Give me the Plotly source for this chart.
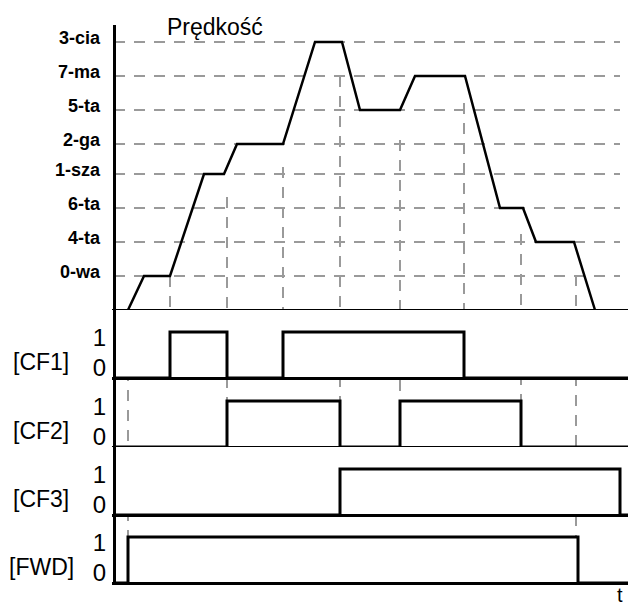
import plotly.graph_objects as go

# speed profile: time and speed
speed_t = [14, 30, 56, 90, 110, 123, 169, 201, 228, 246, 286, 301, 351, 386, 409, 422, 460, 481]
speed_v = [0, 34, 34, 136, 136, 166, 166, 268, 268, 200, 200, 234, 234, 102, 102, 68, 68, 0]

level_names = ["0-wa", "4-ta", "6-ta", "1-sza", "2-ga", "5-ta", "7-ma", "3-cia"]
level_values = [34, 68, 102, 136, 166, 200, 234, 268]

signal_names = ["[CF1]", "[CF2]", "[CF3]", "[FWD]"]
cf1_edges = [56, 113, 169, 350]
cf2_edges = [113, 226, 286, 407]
cf3_edges = [226, 506]
fwd_edges = [14, 464]

# vertical guide lines: time, speed where the dashes start, signal they run down to
marker_t = [14, 56, 113, 169, 226, 286, 350, 407, 462]
marker_top = [0, 34, 113, 143, 234, 170, 207, 76, 35]
marker_sig = [3, 0, 1, 0, 2, 1, 0, 1, 3]

T_END = 522
GRID_END = 506

# layout in window pixels; the page body adds an 8px margin
OFF = 8
W, H = 636 - OFF, 608 - OFF
LEFT = 112 - OFF
T0 = 114  # window pixel of t = 0 (left axis)
SPEED_TOP, SPEED_ZERO = 25, 310
SIG_ZERO = [378, 447, 515, 583]
SIG_HIGH = 46
FONT = "Arial, 'Liberation Sans', sans-serif"
GRID = "#9a9a9a"
DASH = "11px,9px"


def py(p):
    return 1 - (p - OFF) / H


def px(p):
    return (p - OFF - LEFT) / (W - LEFT)


fig = go.Figure()

# speed grid
gx, gy = [], []
for v in level_values:
    gx += [0, GRID_END, None]
    gy += [v, v, None]
fig.add_trace(go.Scatter(x=gx, y=gy, mode="lines", yaxis="y",
                         line=dict(color=GRID, width=2, dash=DASH), hoverinfo="skip"))

fig.add_trace(go.Scatter(x=speed_t, y=speed_v, mode="lines", yaxis="y",
                         line=dict(color="black", width=2.5)))

layout_axes = {}
speed_range = [-2, SPEED_ZERO - SPEED_TOP]
layout_axes["yaxis"] = dict(
    domain=[py(SPEED_ZERO + 2), py(SPEED_TOP)], range=speed_range, anchor="x",
    showgrid=False, zeroline=True, zerolinewidth=3, zerolinecolor="black",
    showline=False,
    tickvals=[v + 4 for v in level_values], ticktext=level_names,
    tickfont=dict(family=FONT, size=18, color="black", weight="bold"),
    ticks="", ticklabelstandoff=11,
)

all_edges = [cf1_edges, cf2_edges, cf3_edges, fwd_edges]
prev = SPEED_ZERO
sig_ranges = []
for i, (name, edges) in enumerate(zip(signal_names, all_edges)):
    ax = "y%d" % (i + 2)
    xs = [0] + edges + [T_END]
    ys = [0] + [(k + 1) % 2 for k in range(len(edges))] + [0]
    fig.add_trace(go.Scatter(x=xs, y=ys, mode="lines", line_shape="hv", yaxis=ax,
                             line=dict(color="black", width=3)))
    z = SIG_ZERO[i]
    rng = [-2 / SIG_HIGH, (z - prev) / SIG_HIGH]
    dom = [py(z + 2), py(prev)]
    sig_ranges.append((dom, rng))
    layout_axes["yaxis%d" % (i + 2)] = dict(
        domain=dom, range=rng, anchor="x",
        showgrid=False, zeroline=True, zerolinewidth=3, zerolinecolor="black",
        showline=False,
        tickvals=[0.22, 0.88], ticktext=["0", "1"],
        tickfont=dict(family=FONT, size=24, color="black"),
        ticks="", ticklabelstandoff=5,
    )
    fig.add_annotation(text=name, xref="paper", x=px(41), xanchor="center",
                       yref=ax, y=0.35, yanchor="middle", showarrow=False,
                       font=dict(family=FONT, size=23, color="black"))
    prev = z


def to_paper(dom, rng, v):
    return dom[0] + (v - rng[0]) / (rng[1] - rng[0]) * (dom[1] - dom[0])


speed_dom = layout_axes["yaxis"]["domain"]
for t, top, s in zip(marker_t, marker_top, marker_sig):
    dom, rng = sig_ranges[s]
    fig.add_shape(type="line", xref="x", yref="paper", x0=t, x1=t,
                  y0=to_paper(speed_dom, speed_range, top), y1=to_paper(dom, rng, 1),
                  line=dict(color=GRID, width=2, dash=DASH), layer="below")

# left axis line through all panels
fig.add_shape(type="line", xref="x", yref="paper", x0=0.5, x1=0.5,
              y0=py(SIG_ZERO[-1] + 1.5), y1=py(SPEED_TOP),
              line=dict(color="black", width=3))

fig.add_annotation(text="Prędkość", xref="paper", x=px(215), xanchor="center",
                   yref="paper", y=py(27), yanchor="middle", showarrow=False,
                   font=dict(family=FONT, size=23, color="black"))
fig.add_annotation(text="t", xref="paper", x=px(620), xanchor="center",
                   yref="paper", y=py(595), yanchor="middle", showarrow=False,
                   font=dict(family=FONT, size=20, color="black"))

x_start = LEFT + OFF - T0
fig.update_layout(
    width=W, height=H,
    margin=dict(l=LEFT, r=0, t=0, b=0),
    showlegend=False,
    plot_bgcolor="white", paper_bgcolor="white",
    xaxis=dict(range=[x_start, x_start + W - LEFT], visible=False,
               showgrid=False, zeroline=False),
    **layout_axes,
)

fig.write_html("out.html")
